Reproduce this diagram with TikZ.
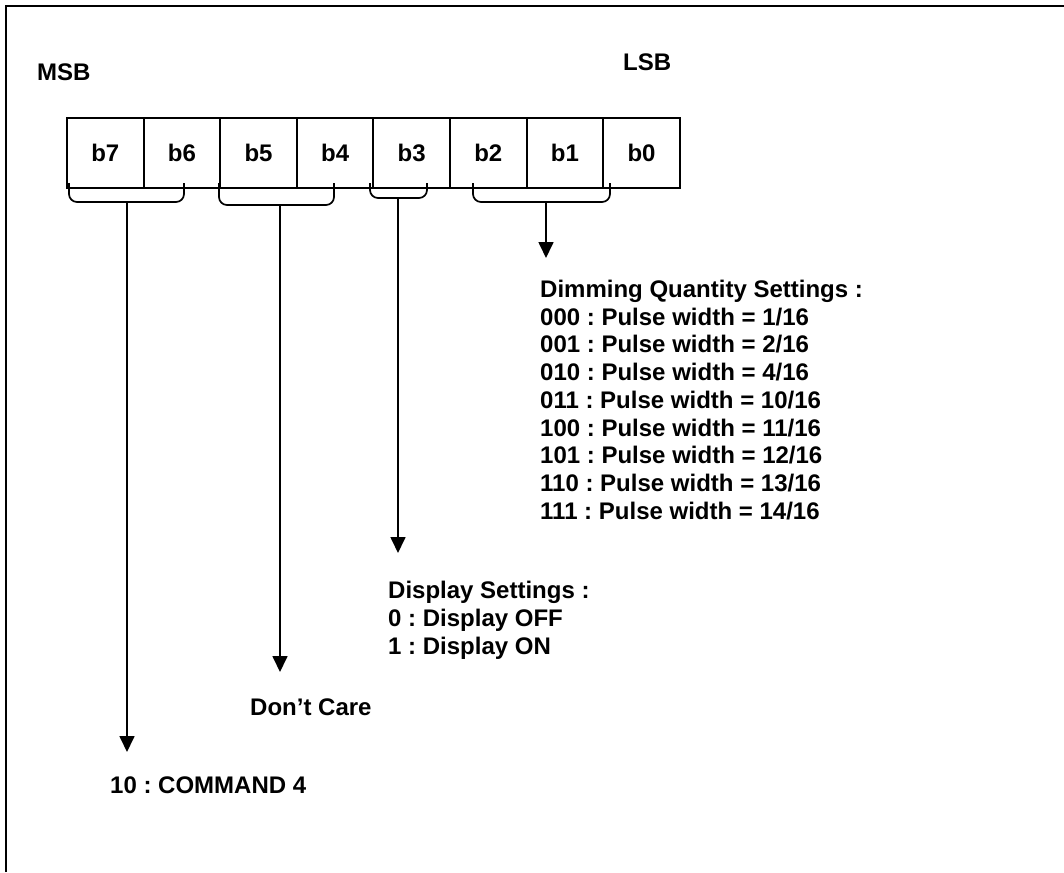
\documentclass[tikz,border=0pt]{standalone}
\usepackage{fontspec}
\setmainfont{Liberation Sans}
\usetikzlibrary{arrows.meta}
\frenchspacing

\begin{document}
\begin{tikzpicture}[x=1pt,y=-1pt,>={Triangle[width=15pt,length=16pt]},
  bit/.style={draw,line width=2pt,minimum width=76.6pt,minimum height=70pt,
    inner sep=0pt,font=\bfseries\fontsize{24}{27}\selectfont},
  lbl/.style={anchor=north west,inner sep=0pt,align=left,
    font=\bfseries\fontsize{24}{27.7}\selectfont},
  brace/.style={line width=1.7pt,rounded corners=8pt},
  lead/.style={line width=1.7pt,->}]
  \useasboundingbox (0,0) rectangle (1064,872);
  \draw[line width=2.2pt] (6,872)--(6,6)--(1064,6);

  \node[lbl] (msb) at (37,64) {MSB};
  \node[lbl] (lsb) at (623,54) {LSB};

  % the eight bits
  \foreach \b [count=\i from 0] in {7,6,5,4,3,2,1,0}
    \node[bit] (b\b) at ({105.3+76.6*\i},153) {b\b};

  % braces under the bit groups
  \draw[brace] (69,183)--(69,202)--(184,202)--(184,183);
  \draw[brace] (219,183)--(219,205)--(334,205)--(334,183);
  \draw[brace] (370,183)--(370,198)--(427,198)--(427,183);
  \draw[brace] (473,183)--(473,202)--(610,202)--(610,183);

  \coordinate (g1) at (127,202);
  \coordinate (g2) at (280,205);
  \coordinate (g3) at (398,198);
  \coordinate (g4) at (546,202);

  \node[lbl] (dim) at (540,280) {Dimming Quantity Settings :\\
    000 : Pulse width = 1/16\\
    001 : Pulse width = 2/16\\
    010 : Pulse width = 4/16\\
    011 : Pulse width = 10/16\\
    100 : Pulse width = 11/16\\
    101 : Pulse width = 12/16\\
    110 : Pulse width = 13/16\\
    111 : Pulse width = 14/16};
  \node[lbl] (disp) at (388,581) {Display Settings :\\
    0 : Display OFF\\
    1 : Display ON};
  \node[lbl] (dc) at (250,699) {Don’t Care};
  \node[lbl] (cmd) at (110,777) {10 : COMMAND 4};

  \coordinate (t1) at (127,752);
  \coordinate (t2) at (280,672);
  \coordinate (t3) at (398,553);
  \coordinate (t4) at (546,258);

  \draw[lead] (g1)--(t1);
  \draw[lead] (g2)--(t2);
  \draw[lead] (g3)--(t3);
  \draw[lead] (g4)--(t4);
\end{tikzpicture}
\end{document}
